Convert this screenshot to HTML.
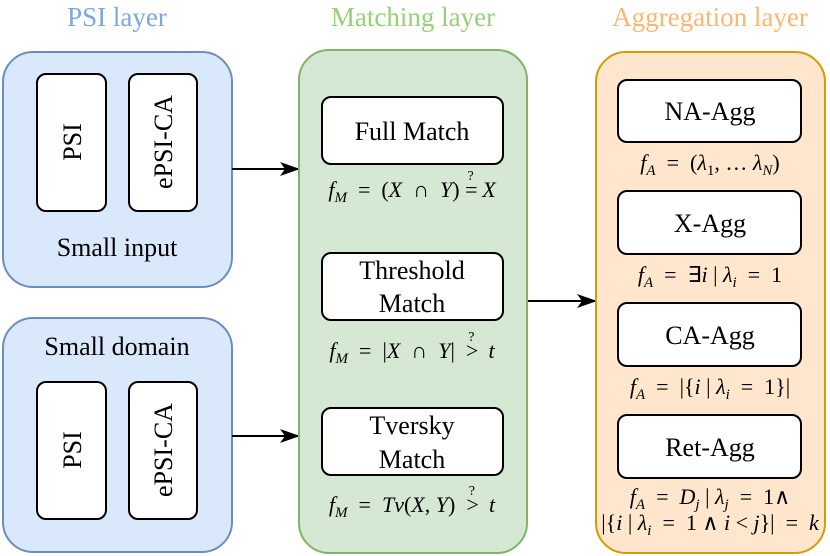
<!DOCTYPE html>
<html><head><style>body{margin:0;background:#fff}svg{display:block}text{font-family:"Liberation Serif",serif;fill:#000}.m{font-style:italic}</style></head><body>
<svg width="830" height="556" viewBox="0 0 830 556" xmlns="http://www.w3.org/2000/svg">
<defs><marker id="a" viewBox="0 0 20 14" refX="19" refY="7" markerWidth="20" markerHeight="14" markerUnits="userSpaceOnUse" orient="auto"><path d="M0,0 L20,7 L0,14 L5,7 Z" fill="#000"/></marker></defs>
<text x="117" y="26" font-size="27" text-anchor="middle" style="fill:#7ea6e0">PSI layer</text>
<text x="413" y="26" font-size="27" text-anchor="middle" style="fill:#97d077">Matching layer</text>
<text x="710" y="26" font-size="27" text-anchor="middle" style="fill:#ffb570">Aggregation layer</text>
<rect x="3" y="52" width="229" height="235" rx="30" fill="#dae8fc" stroke="#6c8ebf" stroke-width="2"/>
<rect x="37" y="74" width="69" height="137" rx="9" fill="#fff" stroke="#000" stroke-width="2"/>
<rect x="129" y="74" width="68" height="137" rx="9" fill="#fff" stroke="#000" stroke-width="2"/>
<text transform="translate(81,142) rotate(-90)" font-size="26" text-anchor="middle">PSI</text>
<text transform="translate(172,142) rotate(-90)" font-size="26" text-anchor="middle">ePSI-CA</text>
<text x="117" y="256" font-size="26" text-anchor="middle">Small input</text>
<rect x="3" y="318" width="229" height="234" rx="30" fill="#dae8fc" stroke="#6c8ebf" stroke-width="2"/>
<text x="117" y="355" font-size="26" text-anchor="middle">Small domain</text>
<rect x="37" y="382" width="69" height="137" rx="9" fill="#fff" stroke="#000" stroke-width="2"/>
<rect x="129" y="382" width="68" height="137" rx="9" fill="#fff" stroke="#000" stroke-width="2"/>
<text transform="translate(81,450) rotate(-90)" font-size="26" text-anchor="middle">PSI</text>
<text transform="translate(172,450) rotate(-90)" font-size="26" text-anchor="middle">ePSI-CA</text>
<line x1="232" y1="169" x2="299" y2="169" stroke="#000" stroke-width="2" marker-end="url(#a)"/>
<line x1="232" y1="436" x2="299" y2="436" stroke="#000" stroke-width="2" marker-end="url(#a)"/>
<line x1="527" y1="301" x2="596" y2="301" stroke="#000" stroke-width="2" marker-end="url(#a)"/>
<rect x="299" y="50" width="228" height="503" rx="30" fill="#d5e8d4" stroke="#82b366" stroke-width="2"/>
<rect x="322" y="97" width="181" height="67" rx="9" fill="#fff" stroke="#000" stroke-width="2"/>
<text x="412" y="140" font-size="26" text-anchor="middle">Full Match</text>
<rect x="322" y="253" width="181" height="67" rx="9" fill="#fff" stroke="#000" stroke-width="2"/>
<text x="412" y="279" font-size="26" text-anchor="middle">Threshold</text>
<text x="412" y="312" font-size="26" text-anchor="middle">Match</text>
<rect x="322" y="408" width="181" height="67" rx="9" fill="#fff" stroke="#000" stroke-width="2"/>
<text x="412" y="434" font-size="26" text-anchor="middle">Tversky</text>
<text x="412" y="468" font-size="26" text-anchor="middle">Match</text>
<text x="412" y="197" font-size="22" text-anchor="middle" xml:space="preserve"><tspan class="m">f</tspan><tspan class="m" font-size="15" dy="5">M</tspan><tspan dy="-5">  =  (</tspan><tspan class="m">X</tspan>  ∩  <tspan class="m">Y</tspan>) =<tspan font-size="14" dx="-10" dy="-17">?</tspan><tspan dx="3" dy="17"> </tspan><tspan class="m">X</tspan></text>
<text x="412" y="358" font-size="22" text-anchor="middle" xml:space="preserve"><tspan class="m">f</tspan><tspan class="m" font-size="15" dy="5">M</tspan><tspan dy="-5">  =  |</tspan><tspan class="m">X</tspan>  ∩  <tspan class="m">Y</tspan>|  &gt;<tspan font-size="14" dx="-10" dy="-17">?</tspan><tspan dx="3" dy="17">  </tspan><tspan class="m">t</tspan></text>
<text x="412" y="512" font-size="22" text-anchor="middle" xml:space="preserve"><tspan class="m">f</tspan><tspan class="m" font-size="15" dy="5">M</tspan><tspan dy="-5">  =  </tspan><tspan class="m">Tv</tspan>(<tspan class="m">X</tspan>, <tspan class="m">Y</tspan>)  &gt;<tspan font-size="14" dx="-10" dy="-17">?</tspan><tspan dx="3" dy="17">  </tspan><tspan class="m">t</tspan></text>
<rect x="596" y="52" width="229" height="501" rx="30" fill="#ffe6cc" stroke="#d79b00" stroke-width="2"/>
<rect x="618" y="80" width="183" height="62" rx="9" fill="#fff" stroke="#000" stroke-width="2"/>
<text x="710" y="120" font-size="26" text-anchor="middle">NA-Agg</text>
<rect x="618" y="191" width="183" height="63" rx="9" fill="#fff" stroke="#000" stroke-width="2"/>
<text x="710" y="232" font-size="26" text-anchor="middle">X-Agg</text>
<rect x="618" y="303" width="183" height="63" rx="9" fill="#fff" stroke="#000" stroke-width="2"/>
<text x="710" y="344" font-size="26" text-anchor="middle">CA-Agg</text>
<rect x="618" y="415" width="183" height="63" rx="9" fill="#fff" stroke="#000" stroke-width="2"/>
<text x="710" y="456" font-size="26" text-anchor="middle">Ret-Agg</text>
<text x="710" y="170" font-size="22" text-anchor="middle" xml:space="preserve"><tspan class="m">f</tspan><tspan class="m" font-size="15" dy="5">A</tspan><tspan dy="-5">  =  (</tspan><tspan class="m">λ</tspan><tspan font-size="15" dy="5">1</tspan><tspan dy="-5">, … </tspan><tspan class="m">λ</tspan><tspan class="m" font-size="15" dy="5">N</tspan><tspan dy="-5">)</tspan></text>
<text x="710" y="282" font-size="22" text-anchor="middle" xml:space="preserve"><tspan class="m">f</tspan><tspan class="m" font-size="15" dy="5">A</tspan><tspan dy="-5">  =  ∃</tspan><tspan class="m">i</tspan> | <tspan class="m">λ</tspan><tspan class="m" font-size="15" dy="5">i</tspan><tspan dy="-5">  =  1</tspan></text>
<text x="710" y="394" font-size="22" text-anchor="middle" xml:space="preserve"><tspan class="m">f</tspan><tspan class="m" font-size="15" dy="5">A</tspan><tspan dy="-5">  =  |{</tspan><tspan class="m">i</tspan> | <tspan class="m">λ</tspan><tspan class="m" font-size="15" dy="5">i</tspan><tspan dy="-5">  =  1}|</tspan></text>
<text x="710" y="504" font-size="22" text-anchor="middle" xml:space="preserve"><tspan class="m">f</tspan><tspan class="m" font-size="15" dy="5">A</tspan><tspan dy="-5">  =  </tspan><tspan class="m">D</tspan><tspan class="m" font-size="15" dy="5">j</tspan><tspan dy="-5"> | </tspan><tspan class="m">λ</tspan><tspan class="m" font-size="15" dy="5">j</tspan><tspan dy="-5">  =  1∧</tspan></text>
<text x="710" y="530" font-size="22" text-anchor="middle" xml:space="preserve">|{<tspan class="m">i</tspan> | <tspan class="m">λ</tspan><tspan class="m" font-size="15" dy="5">i</tspan><tspan dy="-5">  =  1 ∧ </tspan><tspan class="m">i</tspan> &lt; <tspan class="m">j</tspan>}|  =  <tspan class="m">k</tspan></text>
</svg>
</body></html>
